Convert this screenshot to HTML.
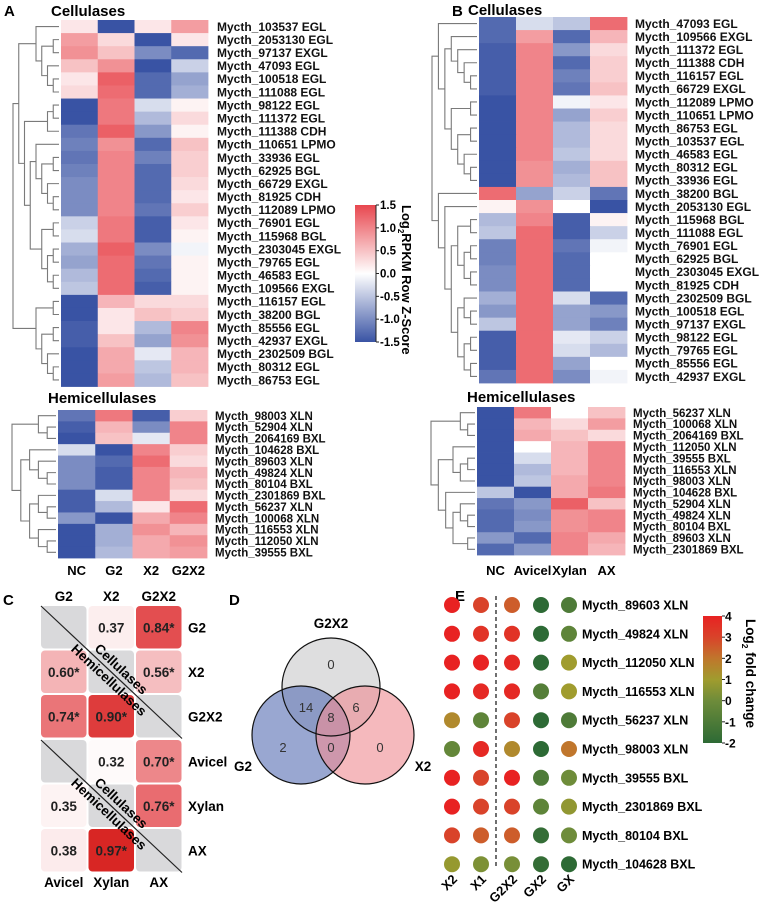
<!DOCTYPE html>
<html><head><meta charset="utf-8">
<style>
html,body{margin:0;padding:0;background:#fff;}
svg{display:block;font-family:"Liberation Sans",Arial,sans-serif;}
.b{font-weight:bold;}
</style></head>
<body>
<svg id="fig" width="760" height="906" viewBox="0 0 760 906" xmlns="http://www.w3.org/2000/svg">
<defs>
<linearGradient id="gradZ" x1="0" y1="1" x2="0" y2="0">
<stop offset="0" stop-color="#3953a4"/><stop offset="0.5" stop-color="#ffffff"/><stop offset="1" stop-color="#e8474f"/>
</linearGradient>
<linearGradient id="gradFC" x1="0" y1="1" x2="0" y2="0">
<stop offset="0" stop-color="#2d6a35"/><stop offset="0.333" stop-color="#6e8c3a"/><stop offset="0.5" stop-color="#a09c2e"/><stop offset="0.667" stop-color="#c0762c"/><stop offset="0.833" stop-color="#d9432a"/><stop offset="1" stop-color="#e82222"/>
</linearGradient>
</defs>
<g id="root"></g>
</svg>
<script>
// ---------- DATA ----------
const colsA = ['NC','G2','X2','G2X2'];
const colsB = ['NC','Avicel','Xylan','AX'];
const aCellLabels = ['Mycth_103537 EGL','Mycth_2053130 EGL','Mycth_97137 EXGL','Mycth_47093 EGL','Mycth_100518 EGL','Mycth_111088 EGL','Mycth_98122 EGL','Mycth_111372 EGL','Mycth_111388 CDH','Mycth_110651 LPMO','Mycth_33936 EGL','Mycth_62925 BGL','Mycth_66729 EXGL','Mycth_81925 CDH','Mycth_112089 LPMO','Mycth_76901 EGL','Mycth_115968 BGL','Mycth_2303045 EXGL','Mycth_79765 EGL','Mycth_46583 EGL','Mycth_109566 EXGL','Mycth_116157 EGL','Mycth_38200 BGL','Mycth_85556 EGL','Mycth_42937 EXGL','Mycth_2302509 BGL','Mycth_80312 EGL','Mycth_86753 EGL'];
const aCellValues = [[0.2,-1.5,0.2,0.8],[0.8,0.3,-1.5,0.2],[0.9,0.5,-1.0,-1.3],[0.5,0.9,-1.5,-0.4],[0.2,1.3,-1.3,-0.8],[0.3,1.2,-1.3,-0.7],[-1.5,1.1,-0.3,0.1],[-1.5,1.1,-0.6,0.3],[-1.2,1.3,-0.9,0.1],[-1.1,0.9,-1.3,0.5],[-1.2,1.0,-1.1,0.4],[-1.1,1.0,-1.3,0.4],[-1.0,1.0,-1.3,0.3],[-1.0,1.0,-1.3,0.2],[-1.0,1.0,-1.2,0.4],[-0.4,1.1,-1.4,0.2],[-0.3,1.1,-1.4,0.1],[-0.7,1.3,-1.0,-0.1],[-0.8,1.2,-1.2,0.1],[-0.6,1.2,-1.3,0.1],[-0.5,1.2,-1.4,0.1],[-1.5,0.6,0.3,0.3],[-1.5,0.2,0.5,0.4],[-1.4,0.2,-0.6,1.0],[-1.4,0.5,-0.8,0.9],[-1.5,0.7,-0.2,0.6],[-1.5,0.7,-0.5,0.6],[-1.5,0.8,-0.6,0.5]];
const aCellTree = [[[0,[[1,2],[3,[4,5]]]],[[[6,7],8],[[9,[[10,11],[12,[13,14]]]],[[15,16],[[17,18],[19,20]]]]]],[[21,22],[[23,24],[25,[26,27]]]]];

const aHemiLabels = ['Mycth_98003 XLN','Mycth_52904 XLN','Mycth_2064169 BXL','Mycth_104628 BXL','Mycth_89603 XLN','Mycth_49824 XLN','Mycth_80104 BXL','Mycth_2301869 BXL','Mycth_56237 XLN','Mycth_100068 XLN','Mycth_116553 XLN','Mycth_112050 XLN','Mycth_39555 BXL'];
const aHemiValues = [[-1.2,1.1,-1.4,0.4],[-1.4,0.6,-1.0,1.0],[-1.5,0.5,-0.2,1.0],[-0.3,-1.5,1.0,0.4],[-1.0,-1.3,1.2,0.3],[-1.0,-1.4,1.0,0.6],[-1.0,-1.4,1.0,0.5],[-1.4,-0.3,1.0,0.3],[-1.4,-0.6,0.2,1.2],[-0.9,-1.5,0.7,1.0],[-1.5,-0.7,0.9,0.6],[-1.5,-0.7,0.7,0.9],[-1.5,-0.6,0.7,0.8]];
const aHemiTree = [[0,[1,2]],[[3,[4,[5,6]]],[[7,[8,9]],[10,[11,12]]]]];

const bCellLabels = ['Mycth_47093 EGL','Mycth_109566 EXGL','Mycth_111372 EGL','Mycth_111388 CDH','Mycth_116157 EGL','Mycth_66729 EXGL','Mycth_112089 LPMO','Mycth_110651 LPMO','Mycth_86753 EGL','Mycth_103537 EGL','Mycth_46583 EGL','Mycth_80312 EGL','Mycth_33936 EGL','Mycth_38200 BGL','Mycth_2053130 EGL','Mycth_115968 BGL','Mycth_111088 EGL','Mycth_76901 EGL','Mycth_62925 BGL','Mycth_2303045 EXGL','Mycth_81925 CDH','Mycth_2302509 BGL','Mycth_100518 EGL','Mycth_97137 EXGL','Mycth_98122 EGL','Mycth_79765 EGL','Mycth_85556 EGL','Mycth_42937 EXGL'];
const bCellValues = [[-1.3,-0.3,-0.5,1.2],[-1.3,0.8,-1.3,0.6],[-1.4,1.0,-0.9,0.3],[-1.4,1.0,-1.3,0.4],[-1.4,1.0,-1.1,0.4],[-1.4,1.0,-1.2,0.5],[-1.5,1.0,-0.1,0.2],[-1.5,1.0,-0.8,0.4],[-1.5,1.0,-0.6,0.3],[-1.5,1.0,-0.6,0.3],[-1.5,1.0,-0.5,0.3],[-1.5,0.9,-0.7,0.5],[-1.5,0.9,-0.6,0.5],[1.2,-0.8,-0.4,-1.2],[0.1,0.9,0.0,-1.5],[-0.6,1.0,-1.4,0.1],[-0.5,1.2,-1.4,-0.4],[-1.1,1.2,-1.2,-0.1],[-1.1,1.2,-1.3,0.0],[-1.0,1.2,-1.3,0.0],[-1.0,1.2,-1.3,0.0],[-0.7,1.2,-0.3,-1.3],[-0.9,1.2,-0.8,-0.9],[-0.5,1.2,-0.8,-1.1],[-1.4,1.2,-0.2,-0.4],[-1.4,1.2,-0.3,-0.6],[-1.4,1.2,-0.8,0.0],[-1.2,1.2,-1.0,-0.1]];
const bCellTree = [[0,[[1,[2,[3,[4,5]]]],[[6,7],[[8,9],[10,[11,12]]]]]],[13,[14,[[[15,16],[[17,18],[19,20]]],[[21,[22,23]],[[24,25],[26,27]]]]]]];

const bHemiLabels = ['Mycth_56237 XLN','Mycth_100068 XLN','Mycth_2064169 BXL','Mycth_112050 XLN','Mycth_39555 BXL','Mycth_116553 XLN','Mycth_98003 XLN','Mycth_104628 BXL','Mycth_52904 XLN','Mycth_49824 XLN','Mycth_80104 BXL','Mycth_89603 XLN','Mycth_2301869 BXL'];
const bHemiValues = [[-1.5,1.1,0.0,0.5],[-1.5,0.6,0.3,0.8],[-1.5,0.7,0.5,0.3],[-1.5,0.0,0.6,1.0],[-1.5,-0.3,0.6,1.0],[-1.5,-0.6,0.6,1.0],[-1.5,-0.5,0.7,1.0],[-0.5,-1.5,0.7,1.1],[-1.2,-0.9,1.3,0.5],[-1.3,-1.0,0.9,1.0],[-1.3,-0.9,0.9,1.0],[-0.9,-1.3,1.0,0.7],[-1.3,-0.9,1.0,0.6]];
const bHemiTree = [[0,[1,2]],[[3,[[4,5],6]],[7,[[8,[9,10]],[11,12]]]]];

const zTicks = [1.5,1.0,0.5,0.0,-0.5,-1.0,-1.5];
const zTickLabels = ['1.5','1.0','0.5','0.0','-0.5','-1.0','-1.5'];

// Panel C
const cTopCols = ['G2','X2','G2X2'];
const cBotCols = ['Avicel','Xylan','AX'];
const cTopValues = [[null,0.37,0.84],[0.60,null,0.56],[0.74,0.90,null]];
const cTopSig = [[0,0,1],[1,0,1],[1,1,0]];
const cBotValues = [[null,0.32,0.70],[0.35,null,0.76],[0.38,0.97,null]];
const cBotSig = [[0,0,1],[0,0,1],[0,1,0]];

// Panel D
const vennCounts = {g2x2:0, g2:2, x2:0, g2_g2x2:14, x2_g2x2:6, g2_x2:0, all:8};

// Panel E
const eCols = ['X2','X1','G2X2','GX2','GX'];
const eGenes = ['Mycth_89603 XLN','Mycth_49824 XLN','Mycth_112050 XLN','Mycth_116553 XLN','Mycth_56237 XLN','Mycth_98003 XLN','Mycth_39555 BXL','Mycth_2301869 BXL','Mycth_80104 BXL','Mycth_104628 BXL'];
const eValues = [[4,3,2.5,-2,-1],[4,3.5,3.5,-2,-0.5],[4,4,3.8,-2,1],[4,3.8,3.8,-0.8,1],[1.5,-0.5,3,-2,-1],[-0.3,3.8,1.5,-2,2],[4,3,4,-1,0],[4,3,3,-0.5,0.7],[3,2.5,2.5,-1.8,0],[0.8,0.3,0.2,-1.8,-2]];
const fcTicks = [4,3,2,1,0,-1,-2];

// ---------- HELPERS ----------
const NS='http://www.w3.org/2000/svg';
const root=document.getElementById('root');
function mk(tag,attrs,parent,txt){const e=document.createElementNS(NS,tag);for(const k in attrs)e.setAttribute(k,attrs[k]);if(txt!==undefined)e.textContent=txt;(parent||root).appendChild(e);return e;}
function hex(h){return [parseInt(h.substr(1,2),16),parseInt(h.substr(3,2),16),parseInt(h.substr(5,2),16)];}
function lerpStops(stops,v){
  if(v<=stops[0][0])return stops[0][1];
  for(let i=1;i<stops.length;i++){if(v<=stops[i][0]){const t=(v-stops[i-1][0])/(stops[i][0]-stops[i-1][0]);const a=hex(stops[i-1][1]),b=hex(stops[i][1]);return 'rgb('+a.map((x,j)=>Math.round(x+(b[j]-x)*t)).join(',')+')';}}
  return stops[stops.length-1][1];
}
const zColor=v=>lerpStops([[-1.5,'#3953a4'],[0,'#ffffff'],[1.5,'#e8474f']],v);
const fcColor=v=>lerpStops([[-2,'#2d6a35'],[0,'#6e8c3a'],[1,'#a09c2e'],[2,'#c0762c'],[3,'#d9432a'],[4,'#e82222']],v);
const corrColor=v=>lerpStops([[0.3,'#ffffff'],[0.6,'#f4b4b6'],[0.8,'#e65a5e'],[1.0,'#d61d1a']],v);

function heatmap(name,x0,x1,y0,y1,values,labels,labelX,fs,tree,dendroLeft){
  const g=mk('g',{},root);
  
  
  const nr=values.length,nc=values[0].length;
  const cw=(x1-x0)/nc,rh=(y1-y0)/nr;
  values.forEach((row,i)=>row.forEach((v,j)=>{
    const r=mk('rect',{x:(x0+j*cw).toFixed(2),y:(y0+i*rh).toFixed(2),width:(cw+0.4).toFixed(2),height:(rh+0.4).toFixed(2),fill:zColor(v)},g);
    
    
  }));
  labels.forEach((l,i)=>{
    const t=mk('text',{x:labelX,y:(y0+(i+0.5)*rh+fs*0.36).toFixed(2),'font-size':fs,class:'b',fill:'#111'},g,l);
    
    
  });
  const dg=mk('g',{stroke:'#7a7a7a','stroke-width':1.1,fill:'none'},g);
  
  
  function height(n){return Array.isArray(n)?1+Math.max(height(n[0]),height(n[1])):0;}
  const H=height(tree);const leafX=x0-2;const unit=(leafX-dendroLeft)/H;
  function draw(n){
    if(!Array.isArray(n))return {y:y0+(n+0.5)*rh,x:leafX};
    const a=draw(n[0]),b=draw(n[1]);const h=height(n);const x=leafX-h*unit;
    mk('path',{d:`M${a.x},${a.y}H${x}V${b.y}H${b.x}`},dg);
    return {y:(a.y+b.y)/2,x:x};
  }
  draw(tree);
  return g;
}
function colLabels(cols,x0,x1,y,fs){
  const cw=(x1-x0)/cols.length;
  cols.forEach((c,j)=>{const t=mk('text',{x:x0+(j+0.5)*cw,y:y,'text-anchor':'middle','font-size':fs,class:'b'},root,c);
    
    });
}
function label(txt,x,y,fs,name,extra){const t=mk('text',Object.assign({x:x,y:y,'font-size':fs,class:'b'},extra||{}),root,txt);
  
  return t;}

// ---------- PANEL A ----------
label('A',4,16,15,'panel-a-letter');
label('Cellulases',51,16,15,'panel-a-cellulases-title');
heatmap('panel-a-cellulases-heatmap',61,208,20,386.5,aCellValues,aCellLabels,217,12,aCellTree,13);
label('Hemicellulases',48,403,15,'panel-a-hemicellulases-title');
heatmap('panel-a-hemicellulases-heatmap',58,207,410,558,aHemiValues,aHemiLabels,215,11.5,aHemiTree,12);
colLabels(colsA,58,207,575,13);
(function(){
  const x=355,y0=205,y1=342;
  const r=mk('rect',{x:x,y:y0,width:21,height:y1-y0,fill:'url(#gradZ)'});
  
  
  mk('line',{x1:x+21,y1:y0,x2:x+21,y2:y1,stroke:'#222','stroke-width':1});
  zTicks.forEach((v,i)=>{const yy=y1-(v+1.5)/3*(y1-y0);
    mk('line',{x1:x+21,y1:yy,x2:x+24,y2:yy,stroke:'#222'});
    const t=mk('text',{x:x+25,y:yy+4,'font-size':11.5,class:'b'},root,zTickLabels[i]);
    
    });
  const tt=mk('text',{x:0,y:0,'font-size':13,class:'b',transform:`translate(402,205) rotate(90)`},root);
  
  
  tt.innerHTML='Log<tspan font-size="8" dy="4">2</tspan><tspan dy="-4">RPKM  Row Z-Score</tspan>';
})();

// ---------- PANEL B ----------
label('B',452,16,15,'panel-b-letter');
label('Cellulases',468,15,15,'panel-b-cellulases-title');
heatmap('panel-b-cellulases-heatmap',479,627,17,383,bCellValues,bCellLabels,635,12,bCellTree,432);
label('Hemicellulases',467,402,15,'panel-b-hemicellulases-title');
heatmap('panel-b-hemicellulases-heatmap',477,625,407,555,bHemiValues,bHemiLabels,633,11.5,bHemiTree,431);
colLabels(colsB,477,625,575,13);

// ---------- PANEL C ----------
label('C',3,605,15,'panel-c-letter');
(function(){
  const xs=[41,88.5,136],cw=45.5,ch=42.5,gap=2;
  function block(vals,sig,rowLabs,y0,name){
    const g=mk('g',{});
    
    
    vals.forEach((row,i)=>row.forEach((v,j)=>{
      const x=xs[j],y=y0+i*(ch+gap);
      const r=mk('rect',{x:x,y:y,width:cw,height:ch,rx:4,fill:v===null?'#d9d9db':corrColor(v)},g);
      
      
      if(v!==null){const t=mk('text',{x:x+cw/2,y:y+ch/2+5,'text-anchor':'middle','font-size':13.5,class:'b',fill:'#222'},g,v.toFixed(2)+(sig[i][j]?'*':''));
        
        }
    }));
    rowLabs.forEach((l,i)=>{const t=mk('text',{x:188,y:y0+i*(ch+gap)+ch/2+5,'font-size':13.5,class:'b'},g,l);
      
      });
    const x1=41,yA=y0,x2=182,yB=y0+3*ch+2*gap+1;
    mk('line',{x1:x1,y1:yA,x2:x2,y2:yB,stroke:'#222','stroke-width':1.2},g);
    const ang=Math.atan2(yB-yA,x2-x1)*180/Math.PI;
    const cx=114,cy=yA+(cx-x1)*(yB-yA)/(x2-x1);
    const t1=mk('text',{x:0,y:-3,'text-anchor':'middle','font-size':13.5,class:'b',transform:`translate(${cx+2},${cy}) rotate(${ang})`},g,'Cellulases');
    
    
    const t2=mk('text',{x:0,y:12,'text-anchor':'middle','font-size':13.5,class:'b',transform:`translate(${cx},${cy}) rotate(${ang})`},g,'Hemicellulases');
    
    
  }
  block(cTopValues,cTopSig,cTopCols,606,'panel-c-glucose-block');
  block(cBotValues,cBotSig,cBotCols,740,'panel-c-cellulose-block');
  cTopCols.forEach((c,j)=>{const t=mk('text',{x:xs[j]+cw/2,y:601,'text-anchor':'middle','font-size':13.5,class:'b'},root,c);
    
    });
  cBotCols.forEach((c,j)=>{const t=mk('text',{x:xs[j]+cw/2,y:887,'text-anchor':'middle','font-size':13.5,class:'b'},root,c);
    
    });
})();

// ---------- PANEL D ----------
label('D',229,605,15,'panel-d-letter');
(function(){
  const g=mk('g',{});
  
  
  const circles=[['g2x2',331,687,'#c9c9cc','G2X2',331,628],['g2',301,735,'#5b71b5','G2',243,771],['x2',365,735,'#ef8e95','X2',423,771]];
  circles.forEach(c=>{const e=mk('circle',{cx:c[1],cy:c[2],r:49,fill:c[3],'fill-opacity':0.62,stroke:'none'},g);
    
    });
  circles.forEach(c=>{mk('circle',{cx:c[1],cy:c[2],r:49,fill:'none',stroke:'#111','stroke-width':1.2},g);
    const t=mk('text',{x:c[5],y:c[6],'text-anchor':'middle','font-size':13.5,class:'b'},g,c[4]);
    
    });
  const pos={g2x2:[331,669],g2:[283,752],x2:[380,752],g2_g2x2:[306,712],x2_g2x2:[356,712],g2_x2:[331,752],all:[331,722]};
  for(const k in vennCounts){const t=mk('text',{x:pos[k][0],y:pos[k][1],'text-anchor':'middle','font-size':13,fill:'#333'},g,String(vennCounts[k]));
    
    }
})();

// ---------- PANEL E ----------
label('E',455,601,15,'panel-e-letter');
(function(){
  const xs=[452,481,512,541,569],y0=605,dy=28.8;
  const g=mk('g',{});
  
  
  mk('line',{x1:496,y1:596,x2:496,y2:868,stroke:'#222','stroke-width':1.3,'stroke-dasharray':'4,3'},g);
  eValues.forEach((row,i)=>{
    row.forEach((v,j)=>{const c=mk('circle',{cx:xs[j],cy:y0+i*dy,r:8,fill:fcColor(v)},g);
      
      });
    const t=mk('text',{x:582,y:y0+i*dy+4.5,'font-size':12.5,class:'b'},g,eGenes[i]);
    
    
  });
  eCols.forEach((c,j)=>{const t=mk('text',{x:0,y:0,'text-anchor':'end','font-size':13,class:'b',transform:`translate(${xs[j]+6},${880}) rotate(-45)`},g,c);
    
    });
  const x=703,yt=616,yb=743;
  const r=mk('rect',{x:x,y:yt,width:19,height:yb-yt,fill:'url(#gradFC)'},g);
  
  
  fcTicks.forEach(v=>{const yy=yb-(v+2)/6*(yb-yt);
    mk('line',{x1:x+19,y1:yy,x2:x+22,y2:yy,stroke:'#222'},g);
    const t=mk('text',{x:x+22,y:yy+4.5,'font-size':12,class:'b'},g,String(v));
    
    });
  const tt=mk('text',{x:0,y:0,'font-size':13.5,class:'b',transform:'translate(746,619) rotate(90)'},g);
  
  
  tt.innerHTML='Log<tspan font-size="8.5" dy="4">2</tspan><tspan dy="-4"> fold change</tspan>';
})();
</script>
</body></html>
